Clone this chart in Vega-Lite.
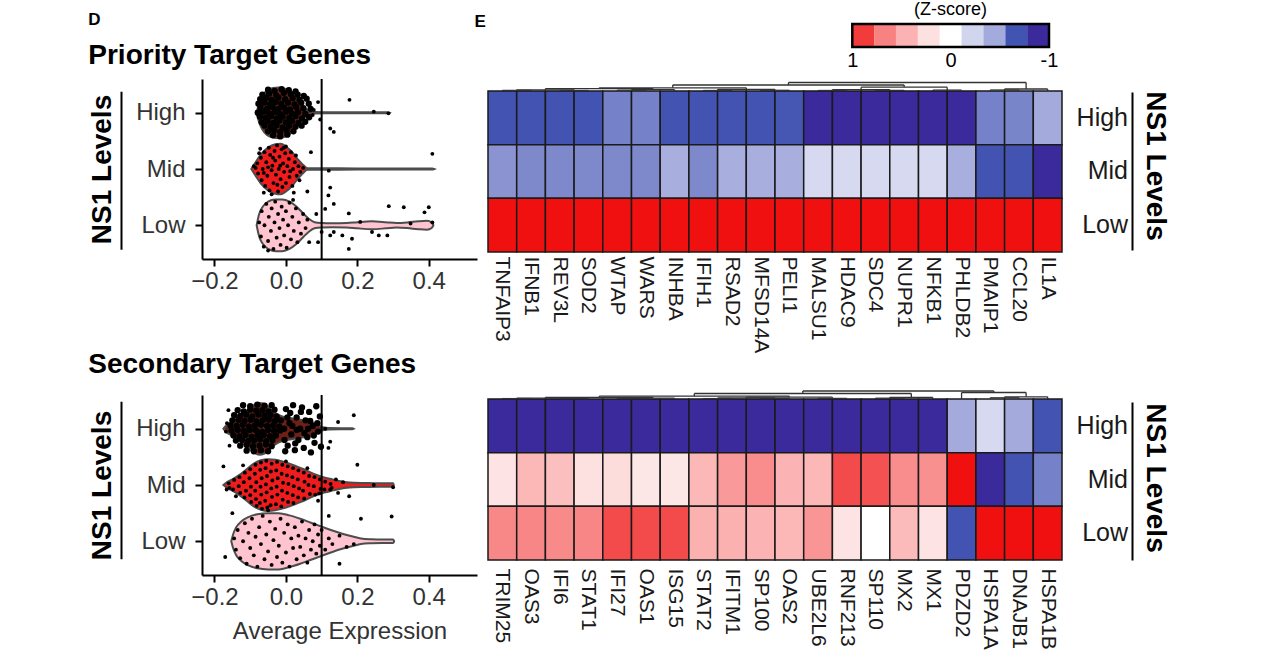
{
"$schema": "https://vega.github.io/schema/vega-lite/v6.json",
"padding": {"left": 88, "top": 0, "right": 10, "bottom": 5},
"background": "white",
"bounds": "flush",
"spacing": 32,
"config": {
  "font": "Liberation Sans",
  "view": {"stroke": null},
  "axis": {"grid": false, "labelFont": "Liberation Sans", "titleFont": "Liberation Sans", "domainColor": "black", "tickColor": "black", "labelColor": "#333333", "titleColor": "black"},
  "title": {"font": "Liberation Sans", "color": "black", "subtitleFont": "Liberation Sans", "subtitleColor": "black"}
},
"datasets": {
  "leg": [
    {"hi": 1, "lo": 0.778, "z": 0.889}, {"hi": 0.778, "lo": 0.556, "z": 0.667}, {"hi": 0.556, "lo": 0.333, "z": 0.444},
    {"hi": 0.333, "lo": 0.111, "z": 0.222}, {"hi": 0.111, "lo": -0.111, "z": 0}, {"hi": -0.111, "lo": -0.333, "z": -0.222},
    {"hi": -0.333, "lo": -0.556, "z": -0.444}, {"hi": -0.556, "lo": -0.778, "z": -0.667}, {"hi": -0.778, "lo": -1, "z": -0.889}
  ],
  "legFrame": [{"from": 1, "to": -1}],
  "cutP": [{"t": 0.1}],
  "heatP": [
    {"g":"TNFAIP3","l":"High","z":-0.67},{"g":"IFNB1","l":"High","z":-0.67},{"g":"REV3L","l":"High","z":-0.67},{"g":"SOD2","l":"High","z":-0.67},{"g":"WTAP","l":"High","z":-0.55},{"g":"WARS","l":"High","z":-0.55},{"g":"INHBA","l":"High","z":-0.67},{"g":"IFIH1","l":"High","z":-0.67},{"g":"RSAD2","l":"High","z":-0.67},{"g":"MFSD14A","l":"High","z":-0.67},{"g":"PELI1","l":"High","z":-0.66},{"g":"MALSU1","l":"High","z":-0.95},{"g":"HDAC9","l":"High","z":-0.95},{"g":"SDC4","l":"High","z":-0.95},{"g":"NUPR1","l":"High","z":-0.95},{"g":"NFKB1","l":"High","z":-0.95},{"g":"PHLDB2","l":"High","z":-0.95},{"g":"PMAIP1","l":"High","z":-0.55},{"g":"CCL20","l":"High","z":-0.54},{"g":"IL1A","l":"High","z":-0.44},
    {"g":"TNFAIP3","l":"Mid","z":-0.5},{"g":"IFNB1","l":"Mid","z":-0.53},{"g":"REV3L","l":"Mid","z":-0.53},{"g":"SOD2","l":"Mid","z":-0.53},{"g":"WTAP","l":"Mid","z":-0.53},{"g":"WARS","l":"Mid","z":-0.53},{"g":"INHBA","l":"Mid","z":-0.42},{"g":"IFIH1","l":"Mid","z":-0.53},{"g":"RSAD2","l":"Mid","z":-0.42},{"g":"MFSD14A","l":"Mid","z":-0.42},{"g":"PELI1","l":"Mid","z":-0.42},{"g":"MALSU1","l":"Mid","z":-0.2},{"g":"HDAC9","l":"Mid","z":-0.2},{"g":"SDC4","l":"Mid","z":-0.2},{"g":"NUPR1","l":"Mid","z":-0.2},{"g":"NFKB1","l":"Mid","z":-0.2},{"g":"PHLDB2","l":"Mid","z":-0.42},{"g":"PMAIP1","l":"Mid","z":-0.67},{"g":"CCL20","l":"Mid","z":-0.67},{"g":"IL1A","l":"Mid","z":-0.95},
    {"g":"TNFAIP3","l":"Low","z":1.1},{"g":"IFNB1","l":"Low","z":1.1},{"g":"REV3L","l":"Low","z":1.1},{"g":"SOD2","l":"Low","z":1.1},{"g":"WTAP","l":"Low","z":1.1},{"g":"WARS","l":"Low","z":1.1},{"g":"INHBA","l":"Low","z":1.1},{"g":"IFIH1","l":"Low","z":1.1},{"g":"RSAD2","l":"Low","z":1.1},{"g":"MFSD14A","l":"Low","z":1.1},{"g":"PELI1","l":"Low","z":1.1},{"g":"MALSU1","l":"Low","z":1.1},{"g":"HDAC9","l":"Low","z":1.1},{"g":"SDC4","l":"Low","z":1.1},{"g":"NUPR1","l":"Low","z":1.1},{"g":"NFKB1","l":"Low","z":1.1},{"g":"PHLDB2","l":"Low","z":1.1},{"g":"PMAIP1","l":"Low","z":1.1},{"g":"CCL20","l":"Low","z":1.1},{"g":"IL1A","l":"Low","z":1.1}
  ],
  "heatS": [
    {"g":"TRIM25","l":"High","z":-1.1},{"g":"OAS3","l":"High","z":-1.1},{"g":"IFI6","l":"High","z":-1.1},{"g":"STAT1","l":"High","z":-1.1},{"g":"IFI27","l":"High","z":-1.1},{"g":"OAS1","l":"High","z":-1.1},{"g":"ISG15","l":"High","z":-1.1},{"g":"STAT2","l":"High","z":-1.1},{"g":"IFITM1","l":"High","z":-1.1},{"g":"SP100","l":"High","z":-1.1},{"g":"OAS2","l":"High","z":-1.1},{"g":"UBE2L6","l":"High","z":-1.1},{"g":"RNF213","l":"High","z":-1.1},{"g":"SP110","l":"High","z":-1.1},{"g":"MX2","l":"High","z":-1.1},{"g":"MX1","l":"High","z":-1.1},{"g":"PDZD2","l":"High","z":-0.44},{"g":"HSPA1A","l":"High","z":-0.2},{"g":"DNAJB1","l":"High","z":-0.44},{"g":"HSPA1B","l":"High","z":-0.67},
    {"g":"TRIM25","l":"Mid","z":0.2},{"g":"OAS3","l":"Mid","z":0.42},{"g":"IFI6","l":"Mid","z":0.38},{"g":"STAT1","l":"Mid","z":0.22},{"g":"IFI27","l":"Mid","z":0.24},{"g":"OAS1","l":"Mid","z":0.18},{"g":"ISG15","l":"Mid","z":0.18},{"g":"STAT2","l":"Mid","z":0.42},{"g":"IFITM1","l":"Mid","z":0.56},{"g":"SP100","l":"Mid","z":0.62},{"g":"OAS2","l":"Mid","z":0.44},{"g":"UBE2L6","l":"Mid","z":0.42},{"g":"RNF213","l":"Mid","z":0.84},{"g":"SP110","l":"Mid","z":0.82},{"g":"MX2","l":"Mid","z":0.62},{"g":"MX1","l":"Mid","z":0.6},{"g":"PDZD2","l":"Mid","z":1.1},{"g":"HSPA1A","l":"Mid","z":-1.0},{"g":"DNAJB1","l":"Mid","z":-0.67},{"g":"HSPA1B","l":"Mid","z":-0.55},
    {"g":"TRIM25","l":"Low","z":0.64},{"g":"OAS3","l":"Low","z":0.65},{"g":"IFI6","l":"Low","z":0.63},{"g":"STAT1","l":"Low","z":0.65},{"g":"IFI27","l":"Low","z":0.84},{"g":"OAS1","l":"Low","z":0.84},{"g":"ISG15","l":"Low","z":0.84},{"g":"STAT2","l":"Low","z":0.45},{"g":"IFITM1","l":"Low","z":0.45},{"g":"SP100","l":"Low","z":0.44},{"g":"OAS2","l":"Low","z":0.42},{"g":"UBE2L6","l":"Low","z":0.58},{"g":"RNF213","l":"Low","z":0.2},{"g":"SP110","l":"Low","z":0.0},{"g":"MX2","l":"Low","z":0.4},{"g":"MX1","l":"Low","z":0.2},{"g":"PDZD2","l":"Low","z":-0.67},{"g":"HSPA1A","l":"Low","z":1.1},{"g":"DNAJB1","l":"Low","z":1.1},{"g":"HSPA1B","l":"Low","z":1.1}
  ],
  "denP": [
    {"xl":0.5,"xr":1.5,"h":0.6,"hl":0,"hr":0},{"xl":2.5,"xr":3.5,"h":0.5,"hl":0,"hr":0},{"xl":1.0,"xr":3.0,"h":1.2,"hl":0.6,"hr":0.5},
    {"xl":4.5,"xr":5.5,"h":0.8,"hl":0,"hr":0},{"xl":5.0,"xr":6.5,"h":1.4,"hl":0.8,"hr":0},{"xl":2.0,"xr":5.75,"h":2.4,"hl":1.2,"hr":1.4},
    {"xl":7.5,"xr":8.5,"h":0.5,"hl":0,"hr":0},{"xl":9.5,"xr":10.5,"h":0.7,"hl":0,"hr":0},{"xl":8.0,"xr":10.0,"h":1.6,"hl":0.5,"hr":0.7},
    {"xl":3.875,"xr":9.0,"h":3.2,"hl":2.4,"hr":1.6},{"xl":11.5,"xr":12.5,"h":0.5,"hl":0,"hr":0},{"xl":13.5,"xr":14.5,"h":0.6,"hl":0,"hr":0},
    {"xl":12.0,"xr":14.0,"h":1.3,"hl":0.5,"hr":0.6},{"xl":15.5,"xr":16.5,"h":0.9,"hl":0,"hr":0},{"xl":13.0,"xr":16.0,"h":3.8,"hl":1.3,"hr":0.9},
    {"xl":6.4375,"xr":14.5,"h":6.0,"hl":3.2,"hr":3.8},{"xl":17.5,"xr":18.5,"h":1.0,"hl":0,"hr":0},{"xl":18.0,"xr":19.5,"h":2.0,"hl":1.0,"hr":0},
    {"xl":10.469,"xr":18.75,"h":8.5,"hl":6.0,"hr":2.0}
  ],
  "denS": [
    {"xl":0.5,"xr":1.5,"h":0.4,"hl":0,"hr":0},{"xl":2.5,"xr":3.5,"h":0.4,"hl":0,"hr":0},{"xl":1.0,"xr":3.0,"h":0.9,"hl":0.4,"hr":0.4},
    {"xl":4.5,"xr":5.5,"h":0.4,"hl":0,"hr":0},{"xl":5.0,"xr":6.5,"h":0.8,"hl":0.4,"hr":0},{"xl":2.0,"xr":5.75,"h":1.6,"hl":0.9,"hr":0.8},
    {"xl":7.5,"xr":8.5,"h":0.4,"hl":0,"hr":0},{"xl":9.5,"xr":10.5,"h":0.5,"hl":0,"hr":0},{"xl":8.0,"xr":10.0,"h":1.0,"hl":0.4,"hr":0.5},
    {"xl":11.5,"xr":12.5,"h":0.6,"hl":0,"hr":0},{"xl":9.0,"xr":12.0,"h":1.8,"hl":1.0,"hr":0.6},{"xl":3.875,"xr":10.5,"h":2.8,"hl":1.6,"hr":1.8},
    {"xl":13.5,"xr":14.5,"h":0.8,"hl":0,"hr":0},{"xl":14.0,"xr":15.5,"h":1.5,"hl":0.8,"hr":0},{"xl":7.1875,"xr":14.75,"h":5.5,"hl":2.8,"hr":1.5},
    {"xl":17.5,"xr":18.5,"h":1.2,"hl":0,"hr":0},{"xl":18.0,"xr":19.5,"h":2.2,"hl":1.2,"hr":0},{"xl":16.5,"xr":18.75,"h":6.5,"hl":0,"hr":2.2},
    {"xl":10.969,"xr":17.625,"h":8.0,"hl":5.5,"hr":6.5}
  ],
  "vioP": [
    {"l":"High","v":-0.082,"lo":3,"hi":3},{"l":"High","v":-0.076,"lo":2.85,"hi":3.15},{"l":"High","v":-0.066,"lo":2.7,"hi":3.3},{"l":"High","v":-0.052,"lo":2.6,"hi":3.4},{"l":"High","v":-0.036,"lo":2.56,"hi":3.44},{"l":"High","v":-0.02,"lo":2.55,"hi":3.45},{"l":"High","v":0,"lo":2.58,"hi":3.42},{"l":"High","v":0.02,"lo":2.67,"hi":3.33},{"l":"High","v":0.035,"lo":2.78,"hi":3.22},{"l":"High","v":0.05,"lo":2.9,"hi":3.1},{"l":"High","v":0.065,"lo":2.97,"hi":3.03},{"l":"High","v":0.08,"lo":2.988,"hi":3.012},{"l":"High","v":0.15,"lo":2.99,"hi":3.01},{"l":"High","v":0.286,"lo":2.992,"hi":3.008},{"l":"High","v":0.29,"lo":3,"hi":3},
    {"l":"Mid","v":-0.097,"lo":2,"hi":2},{"l":"Mid","v":-0.085,"lo":1.88,"hi":2.12},{"l":"Mid","v":-0.07,"lo":1.74,"hi":2.26},{"l":"Mid","v":-0.05,"lo":1.62,"hi":2.38},{"l":"Mid","v":-0.03,"lo":1.56,"hi":2.44},{"l":"Mid","v":-0.015,"lo":1.55,"hi":2.45},{"l":"Mid","v":0,"lo":1.6,"hi":2.4},{"l":"Mid","v":0.02,"lo":1.72,"hi":2.28},{"l":"Mid","v":0.035,"lo":1.84,"hi":2.16},{"l":"Mid","v":0.05,"lo":1.94,"hi":2.06},{"l":"Mid","v":0.06,"lo":1.985,"hi":2.015},{"l":"Mid","v":0.2,"lo":1.99,"hi":2.01},{"l":"Mid","v":0.41,"lo":1.992,"hi":2.008},{"l":"Mid","v":0.415,"lo":2,"hi":2},
    {"l":"Low","v":-0.082,"lo":1,"hi":1},{"l":"Low","v":-0.075,"lo":0.8,"hi":1.2},{"l":"Low","v":-0.065,"lo":0.67,"hi":1.33},{"l":"Low","v":-0.05,"lo":0.58,"hi":1.42},{"l":"Low","v":-0.03,"lo":0.54,"hi":1.46},{"l":"Low","v":-0.01,"lo":0.54,"hi":1.46},{"l":"Low","v":0.01,"lo":0.58,"hi":1.42},{"l":"Low","v":0.03,"lo":0.67,"hi":1.33},{"l":"Low","v":0.05,"lo":0.8,"hi":1.2},{"l":"Low","v":0.065,"lo":0.89,"hi":1.11},{"l":"Low","v":0.08,"lo":0.945,"hi":1.055},{"l":"Low","v":0.1,"lo":0.96,"hi":1.04},{"l":"Low","v":0.13,"lo":0.965,"hi":1.035},{"l":"Low","v":0.17,"lo":0.96,"hi":1.04},{"l":"Low","v":0.2,"lo":0.945,"hi":1.055},{"l":"Low","v":0.24,"lo":0.93,"hi":1.07},{"l":"Low","v":0.28,"lo":0.945,"hi":1.055},{"l":"Low","v":0.31,"lo":0.96,"hi":1.04},{"l":"Low","v":0.34,"lo":0.95,"hi":1.05},{"l":"Low","v":0.37,"lo":0.93,"hi":1.07},{"l":"Low","v":0.395,"lo":0.92,"hi":1.08},{"l":"Low","v":0.408,"lo":0.95,"hi":1.05},{"l":"Low","v":0.413,"lo":1,"hi":1}
  ],
  "vioS": [
    {"l":"High","v":-0.175,"lo":3,"hi":3},{"l":"High","v":-0.165,"lo":2.93,"hi":3.07},{"l":"High","v":-0.15,"lo":2.88,"hi":3.12},{"l":"High","v":-0.13,"lo":2.8,"hi":3.2},{"l":"High","v":-0.11,"lo":2.68,"hi":3.32},{"l":"High","v":-0.09,"lo":2.58,"hi":3.42},{"l":"High","v":-0.075,"lo":2.54,"hi":3.46},{"l":"High","v":-0.06,"lo":2.56,"hi":3.44},{"l":"High","v":-0.045,"lo":2.64,"hi":3.36},{"l":"High","v":-0.03,"lo":2.72,"hi":3.28},{"l":"High","v":-0.01,"lo":2.78,"hi":3.22},{"l":"High","v":0.01,"lo":2.81,"hi":3.19},{"l":"High","v":0.03,"lo":2.83,"hi":3.17},{"l":"High","v":0.05,"lo":2.85,"hi":3.15},{"l":"High","v":0.07,"lo":2.88,"hi":3.12},{"l":"High","v":0.09,"lo":2.93,"hi":3.07},{"l":"High","v":0.1,"lo":2.97,"hi":3.03},{"l":"High","v":0.12,"lo":2.988,"hi":3.012},{"l":"High","v":0.186,"lo":2.99,"hi":3.01},{"l":"High","v":0.19,"lo":3,"hi":3},
    {"l":"Mid","v":-0.175,"lo":2,"hi":2},{"l":"Mid","v":-0.165,"lo":1.95,"hi":2.05},{"l":"Mid","v":-0.15,"lo":1.9,"hi":2.1},{"l":"Mid","v":-0.13,"lo":1.82,"hi":2.18},{"l":"Mid","v":-0.11,"lo":1.72,"hi":2.28},{"l":"Mid","v":-0.09,"lo":1.62,"hi":2.38},{"l":"Mid","v":-0.07,"lo":1.56,"hi":2.44},{"l":"Mid","v":-0.05,"lo":1.54,"hi":2.46},{"l":"Mid","v":-0.03,"lo":1.55,"hi":2.45},{"l":"Mid","v":-0.01,"lo":1.58,"hi":2.42},{"l":"Mid","v":0.01,"lo":1.62,"hi":2.38},{"l":"Mid","v":0.03,"lo":1.67,"hi":2.33},{"l":"Mid","v":0.05,"lo":1.72,"hi":2.28},{"l":"Mid","v":0.07,"lo":1.78,"hi":2.22},{"l":"Mid","v":0.09,"lo":1.83,"hi":2.17},{"l":"Mid","v":0.11,"lo":1.87,"hi":2.13},{"l":"Mid","v":0.13,"lo":1.9,"hi":2.1},{"l":"Mid","v":0.15,"lo":1.93,"hi":2.07},{"l":"Mid","v":0.17,"lo":1.95,"hi":2.05},{"l":"Mid","v":0.19,"lo":1.96,"hi":2.04},{"l":"Mid","v":0.22,"lo":1.965,"hi":2.035},{"l":"Mid","v":0.26,"lo":1.97,"hi":2.03},{"l":"Mid","v":0.3,"lo":1.97,"hi":2.03},{"l":"Mid","v":0.302,"lo":2,"hi":2},
    {"l":"Low","v":-0.153,"lo":1,"hi":1},{"l":"Low","v":-0.148,"lo":0.88,"hi":1.12},{"l":"Low","v":-0.14,"lo":0.76,"hi":1.24},{"l":"Low","v":-0.125,"lo":0.65,"hi":1.35},{"l":"Low","v":-0.105,"lo":0.57,"hi":1.43},{"l":"Low","v":-0.08,"lo":0.52,"hi":1.48},{"l":"Low","v":-0.05,"lo":0.5,"hi":1.5},{"l":"Low","v":-0.02,"lo":0.5,"hi":1.5},{"l":"Low","v":0.01,"lo":0.54,"hi":1.46},{"l":"Low","v":0.04,"lo":0.6,"hi":1.4},{"l":"Low","v":0.07,"lo":0.67,"hi":1.33},{"l":"Low","v":0.1,"lo":0.74,"hi":1.26},{"l":"Low","v":0.13,"lo":0.81,"hi":1.19},{"l":"Low","v":0.16,"lo":0.87,"hi":1.13},{"l":"Low","v":0.19,"lo":0.92,"hi":1.08},{"l":"Low","v":0.21,"lo":0.95,"hi":1.05},{"l":"Low","v":0.24,"lo":0.965,"hi":1.035},{"l":"Low","v":0.27,"lo":0.97,"hi":1.03},{"l":"Low","v":0.3,"lo":0.97,"hi":1.03},{"l":"Low","v":0.303,"lo":1,"hi":1}
  ],
  "ptsPH": [
    {"v":-0.05,"y":3.41},{"v":-0.032,"y":3.39},{"v":-0.012,"y":3.42},{"v":0.008,"y":3.4},{"v":0.027,"y":3.38},
    {"v":-0.066,"y":3.32},{"v":-0.047,"y":3.34},{"v":-0.027,"y":3.31},{"v":-0.006,"y":3.35},{"v":0.014,"y":3.33},{"v":0.033,"y":3.32},{"v":0.05,"y":3.3},
    {"v":-0.072,"y":3.24},{"v":-0.056,"y":3.26},{"v":-0.04,"y":3.23},{"v":-0.021,"y":3.27},{"v":-0.002,"y":3.24},{"v":0.019,"y":3.26},{"v":0.038,"y":3.23},{"v":0.058,"y":3.25},
    {"v":-0.077,"y":3.16},{"v":-0.061,"y":3.18},{"v":-0.045,"y":3.15},{"v":-0.029,"y":3.19},{"v":-0.013,"y":3.16},{"v":0.006,"y":3.18},{"v":0.024,"y":3.15},{"v":0.043,"y":3.18},{"v":0.064,"y":3.16},
    {"v":-0.071,"y":3.09},{"v":-0.053,"y":3.07},{"v":-0.037,"y":3.1},{"v":-0.021,"y":3.07},{"v":-0.005,"y":3.09},{"v":0.011,"y":3.06},{"v":0.029,"y":3.1},{"v":0.049,"y":3.08},{"v":0.069,"y":3.07},
    {"v":-0.079,"y":3.0},{"v":-0.063,"y":3.02},{"v":-0.047,"y":2.99},{"v":-0.031,"y":3.01},{"v":-0.016,"y":2.98},{"v":0.001,"y":3.02},{"v":0.017,"y":2.99},{"v":0.034,"y":3.01},{"v":0.054,"y":2.98},
    {"v":-0.073,"y":2.93},{"v":-0.057,"y":2.91},{"v":-0.041,"y":2.94},{"v":-0.025,"y":2.9},{"v":-0.009,"y":2.93},{"v":0.009,"y":2.91},{"v":0.027,"y":2.94},{"v":0.045,"y":2.9},{"v":0.065,"y":2.92},
    {"v":-0.068,"y":2.83},{"v":-0.051,"y":2.85},{"v":-0.035,"y":2.82},{"v":-0.018,"y":2.86},{"v":0.0,"y":2.83},{"v":0.017,"y":2.85},{"v":0.035,"y":2.82},{"v":0.054,"y":2.84},
    {"v":-0.06,"y":2.77},{"v":-0.043,"y":2.75},{"v":-0.026,"y":2.78},{"v":-0.009,"y":2.74},{"v":0.009,"y":2.77},{"v":0.027,"y":2.75},{"v":0.044,"y":2.77},
    {"v":-0.05,"y":2.67},{"v":-0.033,"y":2.69},{"v":-0.016,"y":2.66},{"v":0.002,"y":2.69},{"v":0.021,"y":2.67},
    {"v":-0.036,"y":2.6},{"v":-0.016,"y":2.58},{"v":0.004,"y":2.61}
  ],
  "ptsPO": [
    {"v":0.09,"y":3.19},{"v":0.096,"y":2.88},{"v":0.124,"y":2.72},{"v":0.134,"y":2.66},{"v":0.178,"y":3.23},{"v":0.246,"y":3.02},{"v":0.287,"y":2.99},{"v":0.078,"y":3.05},{"v":0.075,"y":2.96},
    {"v":-0.085,"y":2.02},{"v":-0.08,"y":2.1},{"v":-0.078,"y":1.92},{"v":-0.07,"y":2.2},{"v":-0.068,"y":1.8},{"v":-0.065,"y":2.0},{"v":-0.06,"y":2.3},{"v":-0.058,"y":1.7},{"v":-0.055,"y":2.12},{"v":-0.052,"y":1.88},{"v":-0.048,"y":2.38},{"v":-0.046,"y":1.62},{"v":-0.044,"y":2.25},{"v":-0.04,"y":1.98},{"v":-0.038,"y":2.06},{"v":-0.035,"y":1.75},{"v":-0.032,"y":2.32},{"v":-0.03,"y":2.15},{"v":-0.028,"y":1.9},{"v":-0.025,"y":2.42},{"v":-0.022,"y":1.6},{"v":-0.02,"y":2.0},{"v":-0.018,"y":2.22},{"v":-0.015,"y":1.82},{"v":-0.012,"y":2.35},{"v":-0.01,"y":1.68},{"v":-0.008,"y":2.1},{"v":-0.005,"y":1.95},{"v":-0.002,"y":2.28},{"v":0.0,"y":1.75},{"v":0.004,"y":2.05},{"v":0.008,"y":2.18},{"v":0.01,"y":1.86},{"v":0.014,"y":2.3},{"v":0.018,"y":1.7},{"v":0.02,"y":2.0},{"v":0.025,"y":2.12},{"v":0.03,"y":1.88},{"v":0.035,"y":2.05},{"v":0.04,"y":1.95},{"v":0.048,"y":2.02},{"v":-0.09,"y":2.05},{"v":-0.072,"y":2.36},{"v":-0.062,"y":1.58},{"v":0.0,"y":2.4},{"v":0.022,"y":1.58},
    {"v":-0.075,"y":2.28},{"v":-0.062,"y":1.93},{"v":-0.036,"y":2.2},{"v":-0.024,"y":1.72},{"v":-0.006,"y":2.38},{"v":0.012,"y":1.96},{"v":0.028,"y":2.24},{"v":-0.05,"y":2.03},{"v":-0.016,"y":2.06},{"v":0.038,"y":1.8},
    {"v":0.12,"y":1.97},{"v":0.124,"y":1.67},{"v":0.119,"y":1.53},{"v":0.41,"y":2.27},{"v":0.06,"y":1.6},{"v":0.07,"y":2.3},{"v":-0.04,"y":1.55},
    {"v":-0.075,"y":1.05},{"v":-0.07,"y":0.8},{"v":-0.068,"y":1.25},{"v":-0.062,"y":0.62},{"v":-0.06,"y":1.0},{"v":-0.055,"y":1.38},{"v":-0.05,"y":0.72},{"v":-0.048,"y":1.15},{"v":-0.042,"y":0.9},{"v":-0.04,"y":1.3},{"v":-0.035,"y":0.58},{"v":-0.032,"y":1.05},{"v":-0.03,"y":1.42},{"v":-0.026,"y":0.78},{"v":-0.022,"y":1.2},{"v":-0.018,"y":0.95},{"v":-0.015,"y":0.65},{"v":-0.012,"y":1.33},{"v":-0.008,"y":1.1},{"v":-0.005,"y":0.82},{"v":0.0,"y":1.25},{"v":0.002,"y":0.6},{"v":0.006,"y":1.0},{"v":0.01,"y":1.4},{"v":0.014,"y":0.75},{"v":0.018,"y":1.15},{"v":0.022,"y":0.9},{"v":0.028,"y":1.3},{"v":0.032,"y":0.7},{"v":0.036,"y":1.05},{"v":0.042,"y":0.85},{"v":0.048,"y":1.2},{"v":0.055,"y":0.95},{"v":0.06,"y":1.1},{"v":0.065,"y":0.7},{"v":-0.05,"y":0.55},{"v":0.02,"y":1.45},
    {"v":0.11,"y":1.29},{"v":0.134,"y":1.38},{"v":0.176,"y":1.21},{"v":0.288,"y":1.34},{"v":0.33,"y":1.32},{"v":0.4,"y":1.32},{"v":0.388,"y":1.23},{"v":0.208,"y":1.06},{"v":0.241,"y":0.88},{"v":0.26,"y":0.82},{"v":0.284,"y":0.82},{"v":0.185,"y":0.76},{"v":0.176,"y":0.58},{"v":0.134,"y":0.88},{"v":0.158,"y":0.82},{"v":0.349,"y":1.03},{"v":0.124,"y":0.82},{"v":0.1,"y":0.88},{"v":0.41,"y":1.05},{"v":0.085,"y":1.2},{"v":0.09,"y":0.7}
  ],
  "ptsSH": [
    {"v":-0.12,"y":3.42},{"v":-0.1,"y":3.4},{"v":-0.08,"y":3.43},{"v":-0.06,"y":3.41},{"v":-0.04,"y":3.42},
    {"v":-0.135,"y":3.33},{"v":-0.118,"y":3.31},{"v":-0.1,"y":3.34},{"v":-0.083,"y":3.32},{"v":-0.066,"y":3.33},{"v":-0.049,"y":3.31},{"v":-0.032,"y":3.34},
    {"v":-0.145,"y":3.24},{"v":-0.128,"y":3.23},{"v":-0.111,"y":3.25},{"v":-0.094,"y":3.22},{"v":-0.077,"y":3.25},{"v":-0.06,"y":3.23},{"v":-0.043,"y":3.24},{"v":-0.026,"y":3.22},
    {"v":-0.15,"y":3.15},{"v":-0.133,"y":3.16},{"v":-0.116,"y":3.14},{"v":-0.099,"y":3.16},{"v":-0.082,"y":3.13},{"v":-0.065,"y":3.15},{"v":-0.048,"y":3.16},{"v":-0.031,"y":3.14},{"v":-0.014,"y":3.15},
    {"v":-0.155,"y":3.06},{"v":-0.138,"y":3.05},{"v":-0.121,"y":3.07},{"v":-0.104,"y":3.04},{"v":-0.087,"y":3.06},{"v":-0.07,"y":3.07},{"v":-0.053,"y":3.05},{"v":-0.036,"y":3.06},{"v":-0.019,"y":3.04},
    {"v":-0.152,"y":2.97},{"v":-0.135,"y":2.98},{"v":-0.118,"y":2.96},{"v":-0.101,"y":2.98},{"v":-0.084,"y":2.97},{"v":-0.067,"y":2.95},{"v":-0.05,"y":2.98},{"v":-0.033,"y":2.96},{"v":-0.016,"y":2.97},
    {"v":-0.147,"y":2.88},{"v":-0.13,"y":2.87},{"v":-0.113,"y":2.89},{"v":-0.096,"y":2.86},{"v":-0.079,"y":2.88},{"v":-0.062,"y":2.89},{"v":-0.045,"y":2.87},{"v":-0.028,"y":2.88},
    {"v":-0.14,"y":2.79},{"v":-0.123,"y":2.8},{"v":-0.106,"y":2.78},{"v":-0.089,"y":2.79},{"v":-0.072,"y":2.81},{"v":-0.055,"y":2.78},{"v":-0.038,"y":2.8},
    {"v":-0.128,"y":2.7},{"v":-0.11,"y":2.71},{"v":-0.092,"y":2.69},{"v":-0.074,"y":2.7},{"v":-0.056,"y":2.72},{"v":-0.04,"y":2.69},
    {"v":-0.11,"y":2.61},{"v":-0.09,"y":2.6},{"v":-0.07,"y":2.62},{"v":-0.05,"y":2.6},
    {"v":0.0,"y":3.35},{"v":0.005,"y":2.7},{"v":0.01,"y":3.1},{"v":0.015,"y":2.9},{"v":0.02,"y":3.42},{"v":0.025,"y":2.62},{"v":0.03,"y":3.2},{"v":0.035,"y":2.8},{"v":0.04,"y":3.0},{"v":0.045,"y":3.38},{"v":0.05,"y":2.66},{"v":0.055,"y":3.15},{"v":0.06,"y":2.85},{"v":0.065,"y":3.3},{"v":0.07,"y":2.58},{"v":0.075,"y":3.05},{"v":0.08,"y":2.75},{"v":0.085,"y":3.4},{"v":0.09,"y":2.95},{"v":0.095,"y":3.22},{"v":0.098,"y":2.68},{"v":-0.005,"y":3.0},{"v":0.012,"y":3.28},{"v":0.062,"y":3.0},{"v":0.03,"y":2.98},
    {"v":-0.004,"y":2.8},{"v":0.004,"y":3.2},{"v":0.018,"y":3.05},{"v":0.026,"y":2.74},{"v":0.042,"y":3.3},{"v":0.052,"y":2.92},{"v":0.068,"y":3.14},{"v":0.078,"y":2.88},{"v":0.088,"y":3.1},{"v":-0.002,"y":2.6}
  ],
  "ptsSO": [
    {"v":-0.161,"y":3.33},{"v":-0.168,"y":2.95},{"v":-0.165,"y":3.1},{"v":-0.158,"y":2.7},
    {"v":0.19,"y":3.24},{"v":0.146,"y":3.12},{"v":0.124,"y":2.77},{"v":0.119,"y":2.66},{"v":0.11,"y":3.0},
    {"v":-0.16,"y":2.03},{"v":-0.158,"y":1.95},{"v":-0.145,"y":2.09},{"v":-0.148,"y":1.92},{"v":-0.13,"y":2.14},{"v":-0.132,"y":1.98},{"v":-0.128,"y":1.86},
    {"v":-0.115,"y":2.22},{"v":-0.118,"y":2.05},{"v":-0.112,"y":1.9},{"v":-0.116,"y":1.78},
    {"v":-0.1,"y":2.28},{"v":-0.102,"y":2.12},{"v":-0.098,"y":1.97},{"v":-0.1,"y":1.82},{"v":-0.097,"y":1.7},
    {"v":-0.085,"y":2.36},{"v":-0.087,"y":2.2},{"v":-0.083,"y":2.05},{"v":-0.086,"y":1.9},{"v":-0.084,"y":1.75},{"v":-0.082,"y":1.63},
    {"v":-0.07,"y":2.4},{"v":-0.072,"y":2.27},{"v":-0.068,"y":2.12},{"v":-0.071,"y":1.97},{"v":-0.069,"y":1.83},{"v":-0.073,"y":1.68},{"v":-0.067,"y":1.58},
    {"v":-0.055,"y":2.43},{"v":-0.057,"y":2.3},{"v":-0.053,"y":2.16},{"v":-0.056,"y":2.01},{"v":-0.054,"y":1.87},{"v":-0.058,"y":1.72},{"v":-0.052,"y":1.6},
    {"v":-0.04,"y":2.38},{"v":-0.042,"y":2.24},{"v":-0.038,"y":2.08},{"v":-0.041,"y":1.94},{"v":-0.039,"y":1.79},{"v":-0.043,"y":1.64},
    {"v":-0.025,"y":2.41},{"v":-0.027,"y":2.26},{"v":-0.023,"y":2.12},{"v":-0.026,"y":1.97},{"v":-0.024,"y":1.83},{"v":-0.028,"y":1.66},
    {"v":-0.01,"y":2.36},{"v":-0.012,"y":2.2},{"v":-0.008,"y":2.04},{"v":-0.011,"y":1.9},{"v":-0.009,"y":1.74},{"v":-0.013,"y":1.62},
    {"v":0.005,"y":2.33},{"v":0.003,"y":2.17},{"v":0.007,"y":2.02},{"v":0.004,"y":1.86},{"v":0.006,"y":1.7},
    {"v":0.02,"y":2.3},{"v":0.018,"y":2.14},{"v":0.022,"y":1.98},{"v":0.019,"y":1.82},{"v":0.021,"y":1.68},
    {"v":0.035,"y":2.26},{"v":0.033,"y":2.1},{"v":0.037,"y":1.94},{"v":0.034,"y":1.78},
    {"v":0.05,"y":2.22},{"v":0.052,"y":2.06},{"v":0.048,"y":1.9},{"v":0.051,"y":1.76},
    {"v":0.065,"y":2.16},{"v":0.063,"y":2.0},{"v":0.067,"y":1.84},
    {"v":0.08,"y":2.14},{"v":0.078,"y":1.98},{"v":0.082,"y":1.83},
    {"v":0.095,"y":2.1},{"v":0.097,"y":1.93},{"v":0.093,"y":1.85},
    {"v":0.11,"y":2.06},{"v":0.108,"y":1.92},{"v":0.125,"y":2.02},{"v":0.128,"y":1.95},
    {"v":0.2,"y":2.36},{"v":0.3,"y":1.96},{"v":0.246,"y":2.0},{"v":0.177,"y":1.8},{"v":0.146,"y":1.86},{"v":0.124,"y":1.92},{"v":-0.166,"y":1.92},{"v":-0.175,"y":2.33},{"v":0.14,"y":2.1},{"v":0.16,"y":2.05},
    {"v":-0.12,"y":2.35},{"v":-0.05,"y":1.55},{"v":0.0,"y":2.42},{"v":0.06,"y":2.3},{"v":-0.14,"y":1.8},{"v":0.09,"y":1.72},
    {"v":-0.145,"y":1.05},{"v":-0.14,"y":0.85},{"v":-0.135,"y":1.2},{"v":-0.128,"y":0.7},{"v":-0.12,"y":1.0},{"v":-0.115,"y":1.32},{"v":-0.11,"y":0.6},{"v":-0.105,"y":1.15},{"v":-0.1,"y":0.88},{"v":-0.095,"y":1.4},{"v":-0.09,"y":0.75},{"v":-0.085,"y":1.08},{"v":-0.08,"y":0.55},{"v":-0.075,"y":1.25},{"v":-0.07,"y":0.95},{"v":-0.065,"y":1.45},{"v":-0.06,"y":0.68},{"v":-0.055,"y":1.12},{"v":-0.05,"y":0.82},{"v":-0.045,"y":1.35},{"v":-0.04,"y":0.58},{"v":-0.035,"y":1.02},{"v":-0.03,"y":1.22},{"v":-0.025,"y":0.72},{"v":-0.02,"y":0.92},{"v":-0.015,"y":1.4},{"v":-0.01,"y":0.62},{"v":-0.005,"y":1.15},{"v":0.0,"y":0.8},{"v":0.005,"y":1.3},{"v":0.01,"y":0.55},{"v":0.015,"y":1.05},{"v":0.02,"y":0.88},{"v":0.025,"y":1.25},{"v":0.03,"y":0.68},{"v":0.035,"y":1.1},{"v":0.04,"y":0.9},{"v":0.045,"y":1.35},{"v":0.05,"y":0.75},{"v":0.055,"y":1.05},{"v":0.06,"y":0.62},{"v":0.065,"y":1.2},{"v":0.07,"y":0.85},{"v":0.075,"y":1.0},{"v":0.08,"y":1.3},{"v":0.085,"y":0.78},{"v":0.09,"y":1.12},{"v":0.095,"y":0.92},{"v":0.1,"y":1.2},{"v":0.11,"y":0.85},{"v":0.12,"y":1.05},{"v":0.13,"y":0.95},{"v":0.15,"y":1.1},{"v":0.17,"y":0.9},
    {"v":0.296,"y":1.44},{"v":0.21,"y":1.4},{"v":0.19,"y":0.95},{"v":-0.15,"y":1.5},{"v":-0.17,"y":0.72},{"v":0.12,"y":1.45},{"v":0.15,"y":0.6}
  ]
},
"vconcat": [
  {
    "width": 847, "height": 23,
    "title": {"text": "(Z-score)", "anchor": "middle", "frame": "group", "dx": 325, "offset": 4, "fontSize": 18, "fontWeight": "normal"},
    "layer": [
      {"data": {"name": "leg"}, "mark": {"type": "rect"},
       "encoding": {
         "x": {"field": "hi", "type": "quantitative", "scale": {"domain": [7.612, -1], "nice": false, "zero": false},
               "axis": {"values": [1, 0, -1], "labelExpr": "'' + datum.value", "domain": false, "ticks": false, "tickSize": 0, "labelPadding": 3, "labelFontSize": 20, "labelColor": "black", "labelFlush": false, "labelOverlap": false, "title": null, "grid": false}},
         "x2": {"field": "lo"},
         "color": {"field": "z", "type": "quantitative", "legend": null,
                   "scale": {"type": "linear", "nice": false, "clamp": true, "interpolate": "rgb", "domain": [-0.889, -0.667, -0.444, -0.222, 0, 0.222, 0.444, 0.667, 0.889, 1.0], "range": ["#3B2A9B", "#4254B1", "#A3AADC", "#D2D5EE", "#FFFFFF", "#FDE0E0", "#FCB2B2", "#F88282", "#F23C3C", "#F01010"]}}
       }},
      {"data": {"name": "legFrame"}, "mark": {"type": "rect", "filled": false, "stroke": "black", "strokeWidth": 2.5},
       "encoding": {"x": {"field": "from", "type": "quantitative"}, "x2": {"field": "to"}}}
    ]
  },
  {
    "columns": 2,
    "bounds": "flush",
    "spacing": {"row": 136, "column": 11},
    "concat": [
      {
        "width": 275, "height": 180,
        "title": {"text": "D", "subtitle": "Priority Target Genes", "anchor": "start", "frame": "group", "dx": -113.7, "offset": 7, "fontSize": 17, "fontWeight": "bold", "subtitleFontSize": 28, "subtitleFontWeight": "bold", "subtitlePadding": 13},
        "layer": [
          {"data": {"name": "vioP"}, "mark": {"type": "area", "orient": "vertical", "interpolate": "monotone", "stroke": "#4d4d4d", "strokeWidth": 2},
           "encoding": {
             "x": {"field": "v", "type": "quantitative", "scale": {"domain": [-0.235, 0.535], "nice": false, "zero": false},
                   "axis": {"values": [-0.2, 0, 0.2, 0.4], "format": ".1f", "tickSize": 7, "tickWidth": 2, "domainWidth": 2, "labelFontSize": 24, "labelPadding": 3, "labelFlush": false, "title": null}},
             "y": {"field": "hi", "type": "quantitative", "scale": {"domain": [0.4, 3.6], "nice": false, "zero": false},
                   "axis": {"orient": "left", "values": [1, 2, 3], "labelExpr": "datum.value == 3 ? 'High' : datum.value == 2 ? 'Mid' : 'Low'", "tickSize": 7, "tickWidth": 2, "domainWidth": 2, "labelFontSize": 24, "labelPadding": 10, "title": null}},
             "y2": {"field": "lo"},
             "fill": {"field": "l", "type": "nominal", "legend": null, "scale": {"domain": ["High", "Mid", "Low"], "range": ["#6E2016", "#EE1C1C", "#FFC4CF"]}}
           }},
          {"data": {"name": "ptsPH"}, "mark": {"type": "circle", "color": "black", "size": 40, "opacity": 1},
           "encoding": {
             "x": {"field": "v", "type": "quantitative"},
             "y": {"field": "y", "type": "quantitative", "scale": {"domain": [0.4, 3.6], "nice": false, "zero": false}, "axis": null}
           }},
          {"data": {"name": "ptsPO"}, "mark": {"type": "circle", "color": "black", "size": 15, "opacity": 1},
           "encoding": {
             "x": {"field": "v", "type": "quantitative"},
             "y": {"field": "y", "type": "quantitative", "scale": {"domain": [0.4, 3.6], "nice": false, "zero": false},
                   "axis": {"orient": "left", "offset": 81, "ticks": false, "labels": false, "domain": true, "domainWidth": 2, "domainDash": [0, 9.7, 158, 12.3], "title": "NS1 Levels", "titleFontSize": 28, "titleFontWeight": "bold", "titlePadding": 5}}
           }},
          {"data": {"name": "cutP"}, "mark": {"type": "rule", "color": "black", "strokeWidth": 2},
           "encoding": {"x": {"field": "t", "type": "quantitative"}}}
        ],
        "resolve": {"scale": {"y": "independent"}}
      },
      {
        "width": 574, "height": 173,
        "title": {"text": "E", "anchor": "start", "frame": "group", "dx": -13.5, "offset": 48, "fontSize": 17, "fontWeight": "bold"},
        "layer": [
          {"data": {"name": "heatP"}, "mark": {"type": "rect", "stroke": "#1a1a1a", "strokeWidth": 1.5},
           "encoding": {
             "x": {"field": "g", "type": "nominal", "sort": null, "scale": {"paddingInner": 0, "paddingOuter": 0},
                   "axis": {"orient": "bottom", "labelAngle": 90, "labelFontSize": 21, "labelPadding": 4, "ticks": false, "tickSize": 0, "domain": false, "title": null, "labelColor": "#1a1a1a", "labelLimit": 0}},
             "y": {"field": "l", "type": "nominal", "sort": ["High", "Mid", "Low"], "scale": {"paddingInner": 0, "paddingOuter": 0.1118, "align": 1},
                   "axis": {"orient": "right", "offset": 70, "ticks": false, "tickSize": 0, "labelAlign": "right", "labelPadding": -4.5, "labelFontSize": 25, "labelColor": "#1a1a1a", "domain": true, "domainWidth": 2, "domainDash": [0, 13, 158, 2], "title": "NS1 Levels", "titleFontSize": 28, "titleFontWeight": "bold", "titlePadding": 8}},
             "color": {"field": "z", "type": "quantitative", "legend": null,
                       "scale": {"type": "linear", "nice": false, "clamp": true, "interpolate": "rgb", "domain": [-0.889, -0.667, -0.444, -0.222, 0, 0.222, 0.444, 0.667, 0.889, 1.0], "range": ["#3B2A9B", "#4254B1", "#A3AADC", "#D2D5EE", "#FFFFFF", "#FDE0E0", "#FCB2B2", "#F88282", "#F23C3C", "#F01010"]}}
           }},
          {"data": {"name": "denP"},
           "layer": [
             {"mark": {"type": "rule", "color": "#333333", "strokeWidth": 1.3},
              "encoding": {"x": {"field": "xl", "type": "quantitative", "scale": {"domain": [0, 20], "nice": false, "zero": false}, "axis": null}, "x2": {"field": "xr"},
                           "y": {"field": "h", "type": "quantitative", "scale": {"domain": [-161, 12], "nice": false, "zero": false}, "axis": null}}},
             {"mark": {"type": "rule", "color": "#333333", "strokeWidth": 1.3},
              "encoding": {"x": {"field": "xl", "type": "quantitative"}, "y": {"field": "hl", "type": "quantitative"}, "y2": {"field": "h"}}},
             {"mark": {"type": "rule", "color": "#333333", "strokeWidth": 1.3},
              "encoding": {"x": {"field": "xr", "type": "quantitative"}, "y": {"field": "hr", "type": "quantitative"}, "y2": {"field": "h"}}}
           ]}
        ],
        "resolve": {"scale": {"x": "independent", "y": "independent"}}
      },
      {
        "width": 275, "height": 180,
        "title": {"text": "Secondary Target Genes", "anchor": "start", "frame": "group", "dx": -113.7, "offset": 15, "fontSize": 28, "fontWeight": "bold"},
        "layer": [
          {"data": {"name": "vioS"}, "mark": {"type": "area", "orient": "vertical", "interpolate": "monotone", "stroke": "#4d4d4d", "strokeWidth": 2},
           "encoding": {
             "x": {"field": "v", "type": "quantitative", "scale": {"domain": [-0.235, 0.535], "nice": false, "zero": false},
                   "axis": {"values": [-0.2, 0, 0.2, 0.4], "format": ".1f", "tickSize": 7, "tickWidth": 2, "domainWidth": 2, "labelFontSize": 24, "labelPadding": 3, "labelFlush": false, "title": "Average Expression", "titleFontSize": 24, "titleFontWeight": "normal", "titleColor": "#333333", "titlePadding": 10}},
             "y": {"field": "hi", "type": "quantitative", "scale": {"domain": [0.4, 3.6], "nice": false, "zero": false},
                   "axis": {"orient": "left", "values": [1, 2, 3], "labelExpr": "datum.value == 3 ? 'High' : datum.value == 2 ? 'Mid' : 'Low'", "tickSize": 7, "tickWidth": 2, "domainWidth": 2, "labelFontSize": 24, "labelPadding": 10, "title": null}},
             "y2": {"field": "lo"},
             "fill": {"field": "l", "type": "nominal", "legend": null, "scale": {"domain": ["High", "Mid", "Low"], "range": ["#6E2016", "#EE1C1C", "#FFC4CF"]}}
           }},
          {"data": {"name": "ptsSH"}, "mark": {"type": "circle", "color": "black", "size": 40, "opacity": 1},
           "encoding": {
             "x": {"field": "v", "type": "quantitative"},
             "y": {"field": "y", "type": "quantitative", "scale": {"domain": [0.4, 3.6], "nice": false, "zero": false}, "axis": null}
           }},
          {"data": {"name": "ptsSO"}, "mark": {"type": "circle", "color": "black", "size": 15, "opacity": 1},
           "encoding": {
             "x": {"field": "v", "type": "quantitative"},
             "y": {"field": "y", "type": "quantitative", "scale": {"domain": [0.4, 3.6], "nice": false, "zero": false},
                   "axis": {"orient": "left", "offset": 81, "ticks": false, "labels": false, "domain": true, "domainWidth": 2, "domainDash": [0, 16.3, 157.4, 6.3], "title": "NS1 Levels", "titleFontSize": 28, "titleFontWeight": "bold", "titlePadding": 5}}
           }},
          {"data": {"name": "cutP"}, "mark": {"type": "rule", "color": "black", "strokeWidth": 2},
           "encoding": {"x": {"field": "t", "type": "quantitative"}}}
        ],
        "resolve": {"scale": {"y": "independent"}}
      },
      {
        "width": 574, "height": 165,
        "layer": [
          {"data": {"name": "heatS"}, "mark": {"type": "rect", "stroke": "#1a1a1a", "strokeWidth": 1.5},
           "encoding": {
             "x": {"field": "g", "type": "nominal", "sort": null, "scale": {"paddingInner": 0, "paddingOuter": 0},
                   "axis": {"orient": "bottom", "labelAngle": 90, "labelFontSize": 21, "labelPadding": 8, "ticks": false, "tickSize": 0, "domain": false, "title": null, "labelColor": "#1a1a1a", "labelLimit": 0}},
             "y": {"field": "l", "type": "nominal", "sort": ["High", "Mid", "Low"], "scale": {"paddingInner": 0, "paddingOuter": 0.03727, "align": 1},
                   "axis": {"orient": "right", "offset": 70, "ticks": false, "tickSize": 0, "labelAlign": "right", "labelPadding": -4.5, "labelFontSize": 25, "labelColor": "#1a1a1a", "domain": true, "domainWidth": 2, "domainDash": [0, 7, 158, 1], "title": "NS1 Levels", "titleFontSize": 28, "titleFontWeight": "bold", "titlePadding": 8}},
             "color": {"field": "z", "type": "quantitative", "legend": null,
                       "scale": {"type": "linear", "nice": false, "clamp": true, "interpolate": "rgb", "domain": [-0.889, -0.667, -0.444, -0.222, 0, 0.222, 0.444, 0.667, 0.889, 1.0], "range": ["#3B2A9B", "#4254B1", "#A3AADC", "#D2D5EE", "#FFFFFF", "#FDE0E0", "#FCB2B2", "#F88282", "#F23C3C", "#F01010"]}}
           }},
          {"data": {"name": "denS"},
           "layer": [
             {"mark": {"type": "rule", "color": "#333333", "strokeWidth": 1.3},
              "encoding": {"x": {"field": "xl", "type": "quantitative", "scale": {"domain": [0, 20], "nice": false, "zero": false}, "axis": null}, "x2": {"field": "xr"},
                           "y": {"field": "h", "type": "quantitative", "scale": {"domain": [-161, 4], "nice": false, "zero": false}, "axis": null}}},
             {"mark": {"type": "rule", "color": "#333333", "strokeWidth": 1.3},
              "encoding": {"x": {"field": "xl", "type": "quantitative"}, "y": {"field": "hl", "type": "quantitative"}, "y2": {"field": "h"}}},
             {"mark": {"type": "rule", "color": "#333333", "strokeWidth": 1.3},
              "encoding": {"x": {"field": "xr", "type": "quantitative"}, "y": {"field": "hr", "type": "quantitative"}, "y2": {"field": "h"}}}
           ]}
        ],
        "resolve": {"scale": {"x": "independent", "y": "independent"}}
      }
    ]
  }
]
}
